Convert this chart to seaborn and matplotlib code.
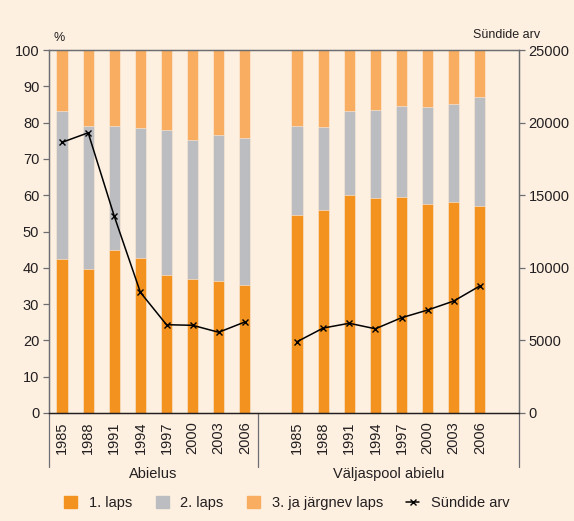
import matplotlib
matplotlib.use('Agg')
import matplotlib.pyplot as plt
import matplotlib.transforms as mtrans
from matplotlib.patches import Patch
from matplotlib.lines import Line2D
import pandas as pd
import seaborn as sns

years = ['1985', '1988', '1991', '1994', '1997', '2000', '2003', '2006']
groups = ['Abielus', 'Väljaspool abielu']

# shares of births by child order, %
married_first = [42.3, 39.6, 44.8, 42.8, 38.1, 37.0, 36.5, 35.3]
married_second = [40.8, 39.6, 34.2, 35.8, 39.8, 38.3, 40.0, 40.4]
married_third = [16.9, 20.8, 21.0, 21.4, 22.1, 24.7, 23.5, 24.3]
outside_first = [54.6, 56.0, 60.1, 59.1, 59.4, 57.7, 58.2, 57.0]
outside_second = [24.6, 22.9, 23.0, 24.4, 25.2, 26.5, 26.9, 30.0]
outside_third = [20.8, 21.1, 16.9, 16.5, 15.4, 15.8, 14.9, 13.0]

# number of births
married_births = [18640, 19300, 13550, 8310, 6080, 6040, 5560, 6270]
outside_births = [4910, 5850, 6180, 5800, 6560, 7090, 7710, 8750]

legend_labels = ['1. laps', '2. laps', '3. ja järgnev laps', 'Sündide arv']
c1, c2, c3 = '#f4921f', '#bcbdc0', '#f9ad61'
bg = '#fdf0e1'
spine_col = '#6d6e71'
txt = '#231f20'

rows = []
for g, f, s, t, b in [(groups[0], married_first, married_second, married_third, married_births),
                      (groups[1], outside_first, outside_second, outside_third, outside_births)]:
    for i, y in enumerate(years):
        rows.append({'key': g + y, 'group': g, 'year': y, 'first': f[i],
                     'second': s[i], 'third': t[i], 'births': b[i]})
df = pd.DataFrame(rows)
df['cum2'] = df['first'] + df['second']
df['total'] = df['cum2'] + df['third']

order = [groups[0] + y for y in years] + ['gap1'] + [groups[1] + y for y in years] + ['gap2']
df['pos'] = [order.index(k) for k in df['key']]

sns.set_style('white')
plt.rcParams['font.family'] = ['Liberation Sans', 'DejaVu Sans']

fig = plt.figure(figsize=(5.74, 5.21), dpi=100, facecolor=bg)
ax = fig.add_axes([49 / 574, 108 / 521, 470 / 574, 363 / 521], facecolor=bg)

kw = dict(x='key', order=order, width=0.43, ax=ax, saturation=1, edgecolor=bg, linewidth=0.4)
sns.barplot(data=df, y='total', color=c3, **kw)
sns.barplot(data=df, y='cum2', color=c2, **kw)
sns.barplot(data=df, y='first', color=c1, **kw)

ax.set_xlim(-0.5, len(order) - 0.5)
ax.set_ylim(0, 100)
ax.set_yticks(range(0, 101, 10))
ax.set_xlabel('')
ax.set_ylabel('')

ax2 = ax.twinx()
sns.lineplot(data=df, x='pos', y='births', units='group', estimator=None, color='black',
             marker='x', markersize=4.5, markeredgewidth=1, markeredgecolor='black',
             linewidth=1.1, ax=ax2)
ax2.set_ylim(0, 25000)
ax2.set_yticks(range(0, 25001, 5000))
ax2.set_ylabel('')
ax2.set_xlabel('')
ax2.set_xlim(-0.5, len(order) - 0.5)

# year labels and separators
ax.set_xticks(df['pos'])
ax.set_xticklabels(df['year'], rotation=90, fontsize=10.5, color=txt)
ax.tick_params(axis='x', length=0, pad=6)
bounds = [p + 0.5 for p in range(len(order) - 1) if order[p + 1] != 'gap2' and order[p] != groups[0] + years[-1]]
ax.set_xticks(bounds, minor=True)
ax.tick_params(axis='x', which='minor', length=19, width=0.9, color=spine_col, direction='out')

trans = mtrans.blended_transform_factory(ax.transData, ax.transAxes)
for xb in [-0.5, order.index('gap1') - 0.5, len(order) - 0.5]:
    ax.plot([xb, xb], [0, -0.15], transform=trans, color=spine_col, lw=0.9, clip_on=False)

centers = [df.loc[df['group'] == g, 'pos'].mean() for g in groups]
for g, c in zip(groups, centers):
    ax.text(c, -0.168, g, transform=trans, ha='center', va='center', fontsize=10.5, color=txt)

for a in (ax, ax2):
    for sp in a.spines.values():
        sp.set_color(spine_col)
        sp.set_linewidth(0.9)
    a.spines['bottom'].set_color(txt)
ax.tick_params(axis='y', length=4, width=0.9, color=spine_col, labelsize=10.5, labelcolor=txt, pad=3, left=True)
ax2.tick_params(axis='y', length=4, width=0.9, color=spine_col, labelsize=10.5, labelcolor=txt, pad=3, right=True)
if ax2.get_legend():
    ax2.get_legend().remove()

fig.text(53 / 574, 1 - 38 / 521, '%', fontsize=9, color=txt, va='center', ha='left')
fig.text(507 / 574, 1 - 35 / 521, 'Sündide arv', fontsize=9, color=txt, va='center', ha='center')

handles = [Patch(color=c1), Patch(color=c2), Patch(color=c3),
           Line2D([], [], color='black', marker='x', markersize=4.5, lw=1.1)]
fig.legend(handles, legend_labels, loc='center', bbox_to_anchor=(0.5, 1 - 503 / 521), ncol=4,
           frameon=False, fontsize=10.5, handlelength=0.9, handleheight=0.9, columnspacing=1.6,
           handletextpad=0.8, labelcolor=txt)

fig.savefig('out.png', dpi=100, facecolor=bg)
